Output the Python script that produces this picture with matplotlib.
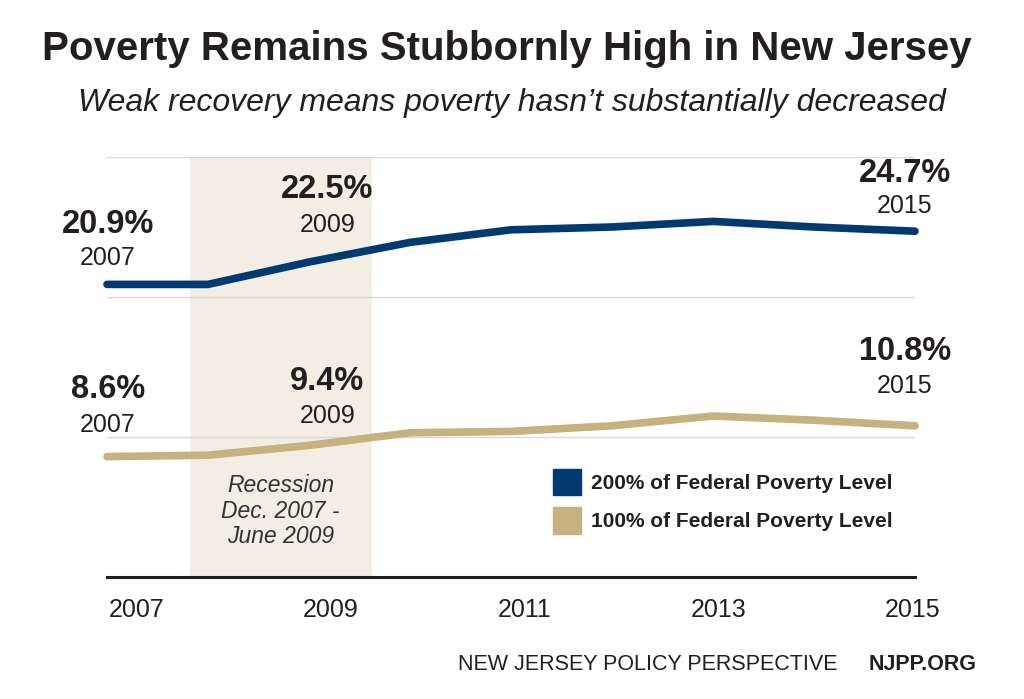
import matplotlib.pyplot as plt
import numpy as np
from matplotlib.patches import Patch

plt.rcParams['font.family'] = ['Liberation Sans', 'DejaVu Sans']

years = [2007, 2008, 2009, 2010, 2011, 2012, 2013, 2014, 2015]
fpl200 = [20.9, 20.9, 22.5, 23.9, 24.8, 25.0, 25.4, 25.0, 24.7]
fpl100 = [8.6, 8.7, 9.4, 10.3, 10.4, 10.8, 11.5, 11.2, 10.8]
tick_years = ['2007', '2009', '2011', '2013', '2015']
recession = (2007.82, 2009.62)

# callouts: text, x, y of pct, y of year
callouts_200 = [('20.9%', '2007', 2007.01, 24.6, 22.3),
                ('22.5%', '2009', 2009.18, 27.1, 24.65),
                ('24.7%', '2015', 2014.90, 28.2, 26.0)]
callouts_100 = [('8.6%', '2007', 2007.01, 12.8, 10.35),
                ('9.4%', '2009', 2009.18, 13.35, 11.0),
                ('10.8%', '2015', 2014.90, 15.5, 13.15)]

blue = '#003a70'
tan = '#c7b27f'
shade = '#f2eee3'
txt = '#231f20'

fig = plt.figure(figsize=(10.24, 6.99), dpi=100)
ax = fig.add_axes([107/1024, 1-577/699, 808/1024, 420/699])
ax.set_xlim(2007, 2015)
ax.set_ylim(0, 30)

ax.axvspan(recession[0], recession[1], color=shade, zorder=0, lw=0)
for g in [10, 20, 30]:
    ax.axhline(g, color='#d9d9d9', lw=1, zorder=1)

ax.plot(years, fpl200, color=blue, lw=5.5, solid_capstyle='round',
        solid_joinstyle='round', clip_on=False, zorder=3)
ax.plot(years, fpl100, color=tan, lw=5.5, solid_capstyle='round',
        solid_joinstyle='round', clip_on=False, zorder=3)

for pct, yr, x, yp, yy in callouts_200 + callouts_100:
    ax.text(x, yp, pct, ha='center', va='baseline', fontsize=23.5,
            fontweight='bold', color=txt)
    ax.text(x, yy, yr, ha='center', va='baseline', fontsize=18, color=txt)

ax.text(sum(recession)/2, 4.7, 'Recession\nDec. 2007 -\nJune 2009', ha='center',
        va='center', fontsize=16.5, style='italic', color='#333333', linespacing=1.15)

for s in ['top', 'right', 'left']:
    ax.spines[s].set_visible(False)
ax.spines['bottom'].set_linewidth(2.2)
ax.spines['bottom'].set_color(txt)
ax.set_yticks([])
ax.set_xticks(np.linspace(2007.29, 2014.98, 5))
ax.set_xticklabels(tick_years, fontsize=18, color=txt)
ax.tick_params(axis='x', length=0, pad=15)

handles = [Patch(color=blue, label='200% of Federal Poverty Level'),
           Patch(color=tan, label='100% of Federal Poverty Level')]
leg = ax.legend(handles=handles, loc='upper left', bbox_to_anchor=(0.552, 0.258),
                frameon=False, fontsize=15, handlelength=1.35, handleheight=1.6,
                handletextpad=0.45, labelspacing=0.55, borderpad=0, borderaxespad=0)
for t in leg.get_texts():
    t.set_fontweight('bold')
    t.set_color(txt)

fig.text(0.495, 0.93, 'Poverty Remains Stubbornly High in New Jersey', ha='center',
         va='center', fontsize=29, fontweight='bold', color=txt)
fig.text(0.5, 0.853, 'Weak recovery means poverty hasn\u2019t substantially decreased',
         ha='center', va='center', fontsize=23, style='italic', color=txt)
fig.text(838/1024, 1-664/699, 'NEW JERSEY POLICY PERSPECTIVE', ha='right', va='center',
         fontsize=15.5, color=txt)
fig.text(977/1024, 1-664/699, 'NJPP.ORG', ha='right', va='center',
         fontsize=15.5, fontweight='bold', color=txt)

fig.savefig('out.png', dpi=100, facecolor='white')
